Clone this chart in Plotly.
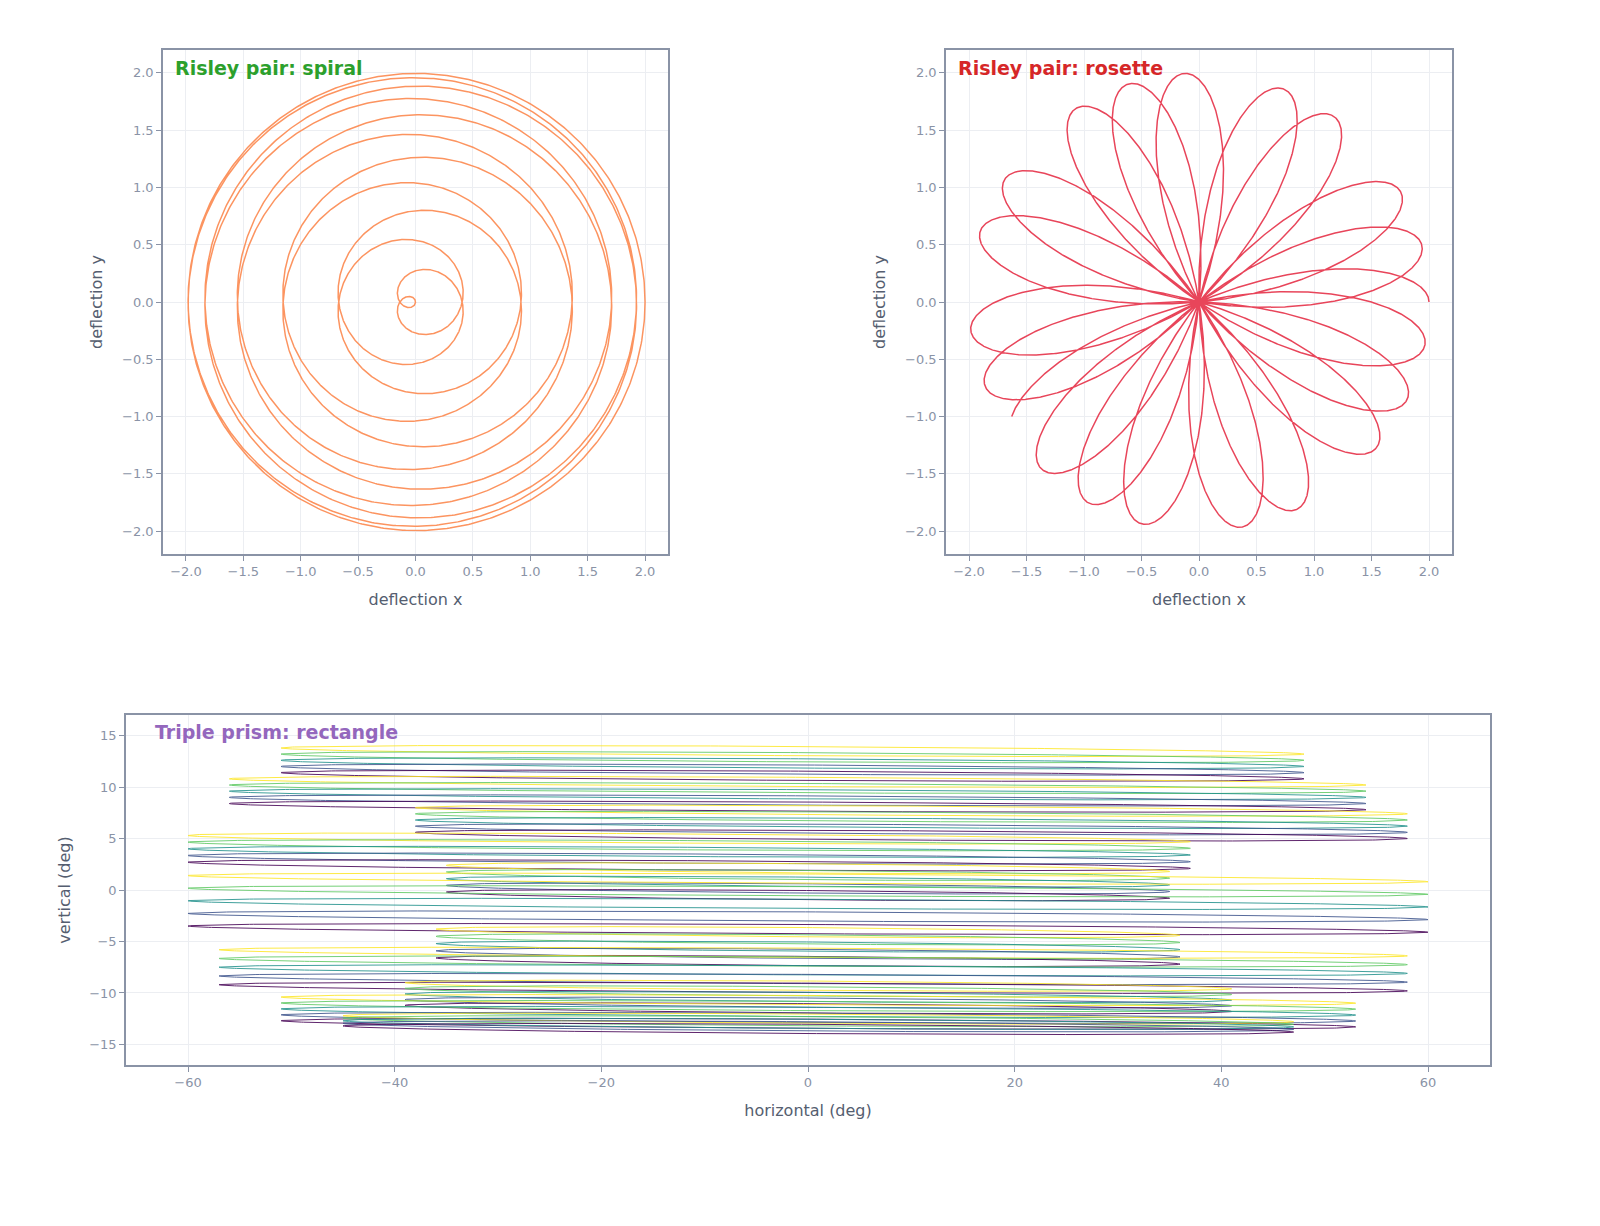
import numpy as np
import plotly.graph_objects as go

# spiral: two prisms, near-equal co-rotation
spiral_turns = 12.0
spiral_beat = 1.0 / 24.0
# rosette: counter-rotation
rosette_petals = 20
rosette_advance_deg = 46.8

# triple prism bands: (x left, x right, y top, y bottom)
band_xl = [-51, -56, -38, -60, -35, -60, -36, -57, -39, -51, -45]
band_xr = [48, 54, 58, 37, 35, 60, 36, 58, 41, 53, 47]
band_yt = [14, 11, 8.2, 5.5, 2.6, 1.6, -3.6, -5.6, -8.8, -10.2, -12.0]
band_yb = [10.6, 7.6, 4.8, 1.9, -1.0, -4.3, -7.4, -10.0, -12.0, -13.5, -14.0]
viridis = ["#fde725", "#5ec962", "#21918c", "#3b528b", "#440154"]

fig = go.Figure()

t = np.linspace(0, spiral_turns * 2 * np.pi, 6000)
z = np.exp(1j * t) + np.exp(1j * t * (1 - 2 * spiral_beat))
fig.add_trace(go.Scatter(x=z.real, y=z.imag, mode="lines", line=dict(color="#fc9460", width=1.5),
                         xaxis="x", yaxis="y", showlegend=False))

ratio = rosette_advance_deg / 180.0
S = 2.0
D = ratio * S
a, b = (S + D) / 2, (S - D) / 2
t2 = np.linspace(0, rosette_petals * np.pi / (S / 2) - 0.3, 8000)
z2 = np.exp(1j * a * t2) + np.exp(-1j * b * t2)
fig.add_trace(go.Scatter(x=z2.real, y=z2.imag, mode="lines", line=dict(color="#e8455a", width=1.5),
                         xaxis="x2", yaxis="y2", showlegend=False))

s = np.linspace(0, 2 * np.pi, 400)
for xl, xr, yt, yb in zip(band_xl, band_xr, band_yt, band_yb):
    c, hw = (xl + xr) / 2, (xr - xl) / 2
    n = len(viridis)
    step = (yt - yb - 1.0) / (n - 1)
    for k, col in enumerate(viridis):
        y0 = yt - 0.5 - k * step
        fig.add_trace(go.Scatter(x=c + hw * np.cos(s), y=y0 + 0.45 * np.sin(s) - 0.3 * np.cos(s),
                                 mode="lines", line=dict(color=col, width=1), opacity=0.85,
                                 xaxis="x3", yaxis="y3", showlegend=False))

W, H = 1600, 1226
ax = dict(showline=True, mirror=True, linecolor="#8a93a6", linewidth=1.5, gridcolor="#eceef2",
          zeroline=False, ticks="outside", tickcolor="#8a93a6", tickfont=dict(color="#8a93a6", size=13),
          title_font=dict(color="#555e70", size=16))
fig.update_layout(
    width=W, height=H, plot_bgcolor="white", paper_bgcolor="white",
    font=dict(family="DejaVu Sans"),
    margin=dict(l=0, r=0, t=0, b=0),
    xaxis=dict(ax, domain=[155 / W, 660 / W], range=[-2.2, 2.2], dtick=0.5, tickformat=".1f", title_text="deflection x", anchor="y"),
    yaxis=dict(ax, domain=[1 - 546 / H, 1 - 42 / H], range=[-2.2, 2.2], dtick=0.5, tickformat=".1f", title_text="deflection y", anchor="x"),
    xaxis2=dict(ax, domain=[938 / W, 1444 / W], range=[-2.2, 2.2], dtick=0.5, tickformat=".1f", title_text="deflection x", anchor="y2"),
    yaxis2=dict(ax, domain=[1 - 546 / H, 1 - 42 / H], range=[-2.2, 2.2], dtick=0.5, tickformat=".1f", title_text="deflection y", anchor="x2"),
    xaxis3=dict(ax, domain=[118 / W, 1482 / W], range=[-66, 66], dtick=20, title_text="horizontal (deg)", anchor="y3"),
    yaxis3=dict(ax, domain=[1 - 1057 / H, 1 - 707 / H], range=[-17, 17], dtick=5, title_text="vertical (deg)", anchor="x3"),
)
titles = [("Risley pair: spiral", "#2ca02c", "x", "y"), ("Risley pair: rosette", "#d62728", "x2", "y2"),
          ("Triple prism: rectangle", "#9467bd", "x3", "y3")]
for txt, col, xa, ya in titles:
    fig.add_annotation(text="<b>" + txt + "</b>", x=0.02, y=0.99, xref=xa + " domain", yref=ya + " domain",
                       xanchor="left", yanchor="top", showarrow=False, font=dict(color=col, size=19))

fig.write_html("out.html")
